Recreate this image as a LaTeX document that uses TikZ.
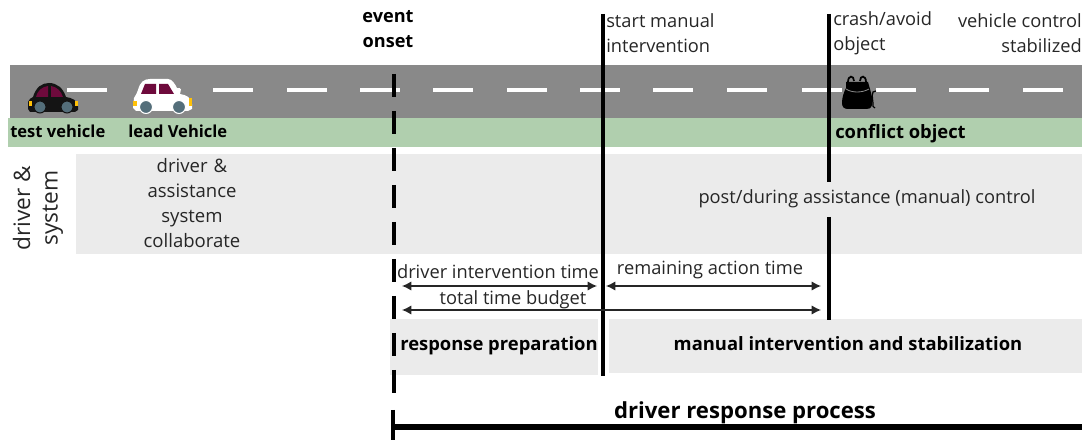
\documentclass[tikz,border=0pt]{standalone}
\usepackage{fontspec}
\setmainfont{Open Sans}
\usetikzlibrary{arrows.meta}
\definecolor{road}{HTML}{898989}
\definecolor{grn}{HTML}{B0CFAE}
\definecolor{lgr}{HTML}{EBEBEB}
\definecolor{wine}{HTML}{6E0A3C}
\definecolor{tyre}{HTML}{546E7A}
\definecolor{amb}{HTML}{FFC107}
\tikzset{
 lbl/.style={inner sep=0pt,font=\fontsize{13.7pt}{18.75pt}\selectfont,text=black!85},
 blbl/.style={inner sep=0pt,font=\fontsize{12.4pt}{18.75pt}\selectfont\bfseries,text=black},
 bar/.style={line width=2.4pt,black},
 dim/.style={line width=1pt,black!85,{Latex[length=7pt,width=7pt]}-{Latex[length=7pt,width=7pt]}},
 lane/.style={white,line width=2.4pt},
}
\begin{document}
\begin{tikzpicture}[x=0.75pt,y=-0.75pt]
\useasboundingbox (0,0) rectangle (1082,441);
% bands
\fill[road] (10,65) rectangle (1082,118);
\fill[grn] (8,118) rectangle (1082,147);
\fill[lgr] (76,154) rectangle (1082,254);
\fill[lgr] (390,319) rectangle (598,375);
\fill[lgr] (609,319) rectangle (1082,373);
% lane markings
\foreach \x in {67,140,213,287,360,433,507,580,653,727,802,876,949,1023}
  \draw[lane] (\x,90) -- +(40,0);
% test vehicle
\fill[black!92] (28,109) -- (28,102) .. controls (29,99) and (31,98) .. (33,97) .. controls (36,87) and (42,83) .. (49,83) .. controls (57,83) and (63,88) .. (66,97) .. controls (72,98) and (77,100) .. (78,106) -- (78,110) -- (75,112) -- (30,112) -- cycle;
\fill[wine] (36,97) .. controls (38,90) and (42,87) .. (48,86) -- (48,97) -- cycle;
\fill[wine] (51,86) .. controls (57,87) and (61,91) .. (63,97) -- (51,97) -- cycle;
\fill[amb] (29,101) rectangle (32,106);
\fill[amb] (75,101) rectangle (78,106);
\fill[tyre,draw=black!92,line width=0.8pt] (40,107) circle (6);
\fill[tyre,draw=black!92,line width=0.8pt] (67,107) circle (6);
% lead vehicle
\fill[white] (133,108) -- (134,98) .. controls (136,95) and (137,93) .. (138,90) .. controls (140,82) and (144,79) .. (150,79) -- (168,79) .. controls (172,79) and (175,84) .. (177,88) -- (181,89) -- (180,94) .. controls (186,95) and (191,97) .. (192,104) -- (192,109) -- (188,111) -- (136,111) -- cycle;
\fill[wine] (141,94) -- (145,84) -- (156,84) -- (156,94) -- cycle;
\fill[wine] (159,84) -- (168,84) -- (174,94) -- (159,94) -- cycle;
\fill[amb] (133,101) rectangle (137,106);
\fill[amb] (189,98) rectangle (192,106);
\fill[tyre,draw=white,line width=0.8pt] (146,107) circle (6.5);
\fill[tyre,draw=white,line width=0.8pt] (179,107) circle (6.5);
% conflict object
\draw[black,line width=0.9pt] (876,91) .. controls (870,90) and (873,100) .. (873,103) .. controls (873,106) and (872,107) .. (875,108);
\draw[black,line width=1.3pt] (848,82) .. controls (848,75) and (854,75) .. (854,81);
\draw[black,line width=1.3pt] (860,81) .. controls (860,75) and (866,75) .. (866,82);
\fill[black] (846,82) -- (868,82) -- (870,89) .. controls (872,96) and (873,101) .. (872,105) .. controls (871,109) and (868,109) .. (866,109) -- (848,109) .. controls (844,109) and (842,107) .. (842,103) .. controls (842,97) and (844,92) .. (846,88) -- cycle;
\draw[road,line width=0.6pt] (846,89) .. controls (852,93) and (862,93) .. (869,89);
% vertical markers
\coordinate (ev0) at (394,74);
\coordinate (ev1) at (394,393);
\draw[line width=3.7pt,black,dash pattern=on 17.6pt off 10.15pt] (ev0) -- (ev1);
\coordinate (sm0) at (603,14);
\coordinate (sm1) at (603,376);
\draw[bar] (sm0) -- (sm1);
\coordinate (cr0) at (829,14);
\coordinate (cr1) at (829,182);
\coordinate (cr2) at (829,217);
\coordinate (cr3) at (829,320);
\draw[bar] (cr0) -- (cr1);
\draw[bar] (cr2) -- (cr3);
% dimensions
\coordinate (d1) at (402,286);
\coordinate (d2) at (597,286);
\coordinate (d3) at (606,286);
\coordinate (d4) at (821,286);
\coordinate (d5) at (402,310);
\coordinate (d6) at (821,310);
\draw[dim] (d1) -- (d2);
\draw[dim] (d3) -- (d4);
\draw[dim] (d5) -- (d6);
% response bracket
\coordinate (b0) at (393,410);
\coordinate (b1) at (393,440);
\coordinate (b2) at (393,427);
\coordinate (b3) at (1082,427);
\draw[line width=3pt] (b0) -- (b1);
\draw[line width=3.8pt] (b2) -- (b3);
% labels
\node[blbl,align=center,font=\fontsize{13.6pt}{18.75pt}\selectfont\bfseries] (eo) at (388,29) {event\\onset};
\node[lbl,anchor=west,align=left] (sm) at (606,33) {start manual\\intervention};
\node[lbl,anchor=west,align=left] (cr) at (833,33) {crash/avoid\\object};
\node[lbl,anchor=east,align=right] (vc) at (1082,33) {vehicle control\\stabilized};
\node[blbl,anchor=west] (tv) at (10,131) {test vehicle};
\node[blbl,anchor=west] (lv) at (128,131) {lead Vehicle};
\node[blbl,anchor=west,font=\fontsize{13.8pt}{16pt}\selectfont\bfseries] (co) at (835,134) {conflict object};
\node[lbl,rotate=90,align=center,font=\fontsize{17pt}{20.5pt}\selectfont] (ds) at (38,208) {driver \&\\system};
\node[lbl,align=center,text width=120pt,font=\fontsize{13.9pt}{18.75pt}\selectfont] (col) at (192,203) {driver \&\\assistance\\system\\collaborate};
\node[lbl] (pd) at (867,199) {post/during assistance (manual) control};
\node[lbl] (dit) at (498,272) {driver intervention time};
\node[lbl] (rat) at (710,270) {remaining action time};
\node[lbl] (ttb) at (513,300) {total time budget};
\node[blbl,font=\fontsize{13.8pt}{16pt}\selectfont\bfseries] (rp) at (499,346) {response preparation};
\node[blbl,font=\fontsize{13.8pt}{16pt}\selectfont\bfseries] (mi) at (848,344) {manual intervention and stabilization};
\node[blbl,font=\fontsize{16.6pt}{18pt}\selectfont\bfseries] (dr) at (745,413) {driver response process};
\end{tikzpicture}
\end{document}
